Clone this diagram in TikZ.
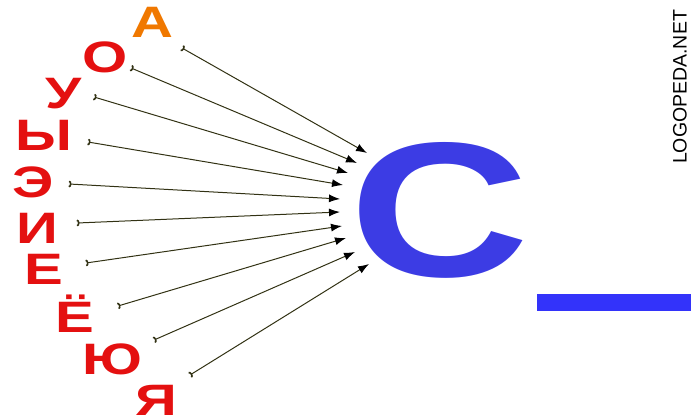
\documentclass[tikz,border=0pt]{standalone}
\usepackage{fontspec}
\setmainfont{Liberation Sans}
\usetikzlibrary{arrows.meta}
\definecolor{letred}{RGB}{228,16,16}
\definecolor{letorange}{RGB}{240,120,0}
\definecolor{cblue}{RGB}{60,60,228}
\definecolor{barblue}{RGB}{51,51,250}
\definecolor{wire}{RGB}{50,50,20}
\tikzset{
  vowel/.style={anchor=base, inner sep=0pt, text=letred, font=\fontsize{44}{44}\selectfont\bfseries, xscale=1.32, transform shape},
  link/.style={draw=wire, line width=1pt, {Arc Barb[reversed,length=2.5pt,width=7pt,line width=1.6pt]}-{Latex[length=11pt,width=8pt,black]}},
}
\begin{document}
\begin{tikzpicture}[x=1pt,y=-1pt]
\useasboundingbox (0,0) rectangle (691,415);
% vowels
\node[vowel, text=letorange] (a) at (152,37) {А};
\node[vowel] (o) at (105,72) {О};
\node[vowel] (u) at (64,108) {У};
\node[vowel] (y) at (44,150) {Ы};
\node[vowel] (e) at (33,197) {Э};
\node[vowel] (i) at (37,243) {И};
\node[vowel] (ye) at (44,284) {Е};
\node[vowel] (yo) at (75,332) {Ё};
\node[vowel] (yu) at (112,374) {Ю};
\node[vowel] (ya) at (156,415) {Я};
% consonant
\node[anchor=base, inner sep=0pt, text=cblue, font=\fontsize{192}{192}\selectfont\bfseries, xscale=1.3, transform shape] (c) at (440,276) {С};
% bar
\fill[barblue] (537,294) rectangle (691,311);
\node[rotate=90, inner sep=0pt, font=\fontsize{19.5}{19.5}\selectfont] (logo) at (680,87) {LOGOPEDA.NET};
% tails and tips
\coordinate (ta) at (182,48);  \coordinate (ha) at (367,153);
\coordinate (to) at (131,68);  \coordinate (ho) at (357,163);
\coordinate (tu) at (94,97);   \coordinate (hu) at (348,173);
\coordinate (ty) at (88,142);  \coordinate (hy) at (343,185);
\coordinate (te) at (69,184);  \coordinate (he) at (340,199);
\coordinate (ti) at (77,223);  \coordinate (hi) at (340,212);
\coordinate (tye) at (86,263); \coordinate (hye) at (342,226);
\coordinate (tyo) at (118,306);\coordinate (hyo) at (346,238);
\coordinate (tyu) at (154,340);\coordinate (hyu) at (355,252);
\coordinate (tya) at (190,375);\coordinate (hya) at (369,264);
\foreach \k in {a,o,u,y,e,i,ye,yo,yu,ya}{\draw[link] (t\k) -- (h\k);}
\end{tikzpicture}
\end{document}
